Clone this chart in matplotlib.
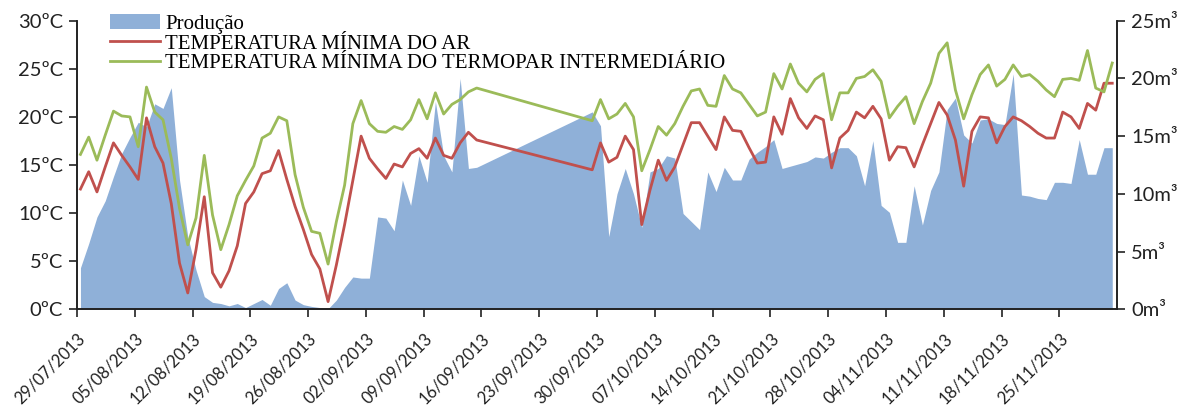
import numpy as np
import pandas as pd
import matplotlib
matplotlib.use("Agg")
import matplotlib.pyplot as plt
import matplotlib.dates as mdates
from matplotlib.patches import Patch
from matplotlib.lines import Line2D

# daily readings from 29/07/2013 to 01/12/2013 (None = no reading)
start_date = "2013-07-29 10:00"

producao = [
    3.6, 5.7, 8.0, 9.4, 11.5, 13.5, 14.9, 16.2, 15.8, 17.8, 17.4, 19.2, 11.2, 6.3,
    3.4, 1.1, 0.6, 0.5, 0.3, 0.5, 0.15, 0.5, 0.85, 0.35, 1.8, 2.3, 0.8, 0.4,
    0.25, 0.15, 0.05, 0.8, 1.9, 2.8, 2.7, 2.7, 8.0, 7.9, 6.8, 11.2, 9.0, 13.3,
    11.0, 18.0, 13.3, 11.9, 20.0, 12.2, 12.3,
    None, None, None, None, None, None, None, None, None, None, None, None, None,
    17.1, 15.9, 6.3, 10.0, 12.2, 10.0, 7.1, 11.9, 12.2, 13.3, 13.1, 8.3, 7.6, 6.9,
    11.9, 10.2, 12.3, 11.2, 11.2, 13.0, 13.6, 14.1, 14.7, 12.2, 12.4, 12.6, 12.8, 13.2,
    13.1, 13.6, 14.0, 14.0, 13.3, 10.7, 14.6, 9.0, 8.4, 5.8, 5.8, 10.7, 7.3, 10.3,
    11.9, 17.3, 18.3, 15.1, 14.4, 16.4, 16.5, 16.1, 16.0, 20.4, 9.9, 9.8, 9.6, 9.5,
    11.0, 11.0, 10.9, 14.7, 11.7, 11.7, 14.0, 14.0,
]

temp_ar = [
    12.5, 14.3, 12.2, 14.8, 17.3, 16.0, 14.8, 13.5, 19.9, 16.9, 15.2, 11.0, 4.8, 1.7,
    6.2, 11.7, 3.8, 2.3, 4.0, 6.6, 11.0, 12.2, 14.1, 14.4, 16.5, 13.5, 10.7, 8.3,
    5.7, 4.2, 0.8, 4.6, 8.8, 13.4, 18.0, 15.7, 14.6, 13.6, 15.1, 14.8, 16.2, 16.7,
    15.7, 17.8, 16.0, 15.7, 17.3, 18.4, 17.6,
    None, None, None, None, None, None, None, None, None, None, None, None, None,
    14.5, 17.3, 15.3, 15.8, 18.0, 16.6, 8.8, 12.4, 15.5, 13.4, 14.8, 17.1, 19.4, 19.4,
    18.0, 16.6, 20.0, 18.6, 18.5, 16.8, 15.2, 15.3, 20.0, 18.2, 21.9, 19.9, 18.8, 20.1,
    19.7, 14.7, 17.8, 18.6, 20.5, 19.9, 21.1, 19.8, 15.5, 16.9, 16.8, 14.8, 17.1, 19.3,
    21.5, 20.2, 17.6, 12.8, 18.5, 20.0, 19.9, 17.3, 19.0, 20.0, 19.6, 19.0, 18.3, 17.8,
    17.8, 20.5, 20.0, 18.8, 21.4, 20.7, 23.5, 23.5,
]

temp_termopar = [
    16.1, 17.9, 15.5, 18.1, 20.6, 20.1, 20.0, 16.9, 23.1, 20.5, 19.7, 15.7, 10.5, 6.7,
    9.5, 16.0, 9.8, 6.2, 8.8, 11.8, 13.4, 14.9, 17.8, 18.3, 20.0, 19.6, 14.0, 10.6,
    8.1, 7.9, 4.7, 9.1, 12.9, 19.3, 21.7, 19.3, 18.5, 18.4, 19.0, 18.7, 19.7, 21.8,
    19.8, 22.5, 20.3, 21.3, 21.8, 22.6, 23.0,
    None, None, None, None, None, None, None, None, None, None, None, None, None,
    19.6, 21.8, 19.8, 20.3, 21.4, 20.0, 14.4, 16.6, 19.0, 18.1, 19.3, 21.1, 22.7, 22.9,
    21.2, 21.1, 24.3, 22.9, 22.5, 21.3, 20.1, 20.5, 24.5, 22.9, 25.5, 23.5, 22.6, 23.9,
    24.5, 19.7, 22.5, 22.5, 24.0, 24.2, 24.9, 23.7, 19.9, 21.1, 22.1, 19.3, 21.6, 23.5,
    26.6, 27.7, 22.8, 19.8, 22.3, 24.4, 25.4, 23.2, 23.9, 25.4, 24.2, 24.4, 23.7, 22.8,
    22.1, 23.9, 24.0, 23.8, 26.9, 23.0, 22.6, 25.6,
]

temp_ticks = [0, 5, 10, 15, 20, 25, 30]
vol_ticks = [0, 5, 10, 15, 20, 25]
date_ticks = pd.date_range("2013-07-29", "2013-11-25", freq="7D")
x_end = "2013-12-02"

df = pd.DataFrame(
    {"producao": producao, "ar": temp_ar, "termopar": temp_termopar},
    index=pd.date_range(start_date, periods=len(producao), freq="D"),
    dtype=float,
)
d = df.dropna()

blue = "#8FB0D8"
red = "#C0504D"
green = "#9BBB59"
tick_font = "Lato"
legend_font = "Liberation Serif"

fig = plt.figure(figsize=(11.96, 4.05), dpi=100)
ax = fig.add_axes([0.0644, 0.2363, 0.8696, 0.7126])
ax.fill_between(d.index, d["producao"], 0, color=blue, lw=0)
ax.set_ylim(0, 25)

ax2 = ax.twinx()
ax2.plot(d.index, d["ar"], color=red, lw=2.0)
ax2.plot(d.index, d["termopar"], color=green, lw=2.0)
ax2.set_ylim(0, 30)

# production on the right, temperatures on the left
ax.yaxis.tick_right()
ax.set_yticks(vol_ticks)
ax.set_yticklabels([f"{v}m³" for v in vol_ticks])
ax2.yaxis.tick_left()
ax2.set_yticks(temp_ticks)
ax2.set_yticklabels([f"{t}ºC" for t in temp_ticks])

ax.set_xlim(pd.Timestamp("2013-07-29"), pd.Timestamp(x_end))
ax.set_xticks(date_ticks)
ax.xaxis.set_major_formatter(mdates.DateFormatter("%d/%m/%Y"))

for a in (ax, ax2):
    a.spines["top"].set_visible(False)
    for s in ("left", "right", "bottom"):
        a.spines[s].set_linewidth(1.2)
        a.spines[s].set_color("#222222")
    a.tick_params(axis="both", direction="out", length=6, width=1.2, color="#222222",
                  labelcolor="#222222")
    a.tick_params(axis="y", labelsize=14.5, pad=4)
    for lab in a.get_yticklabels():
        lab.set_fontfamily(tick_font)

ax.tick_params(axis="x", labelsize=12, pad=9)
for lab in ax.get_xticklabels():
    lab.set_fontfamily(tick_font)
    lab.set_rotation(45)
    lab.set_ha("right")
    lab.set_rotation_mode("anchor")

handles = [
    Patch(facecolor=blue, edgecolor="none"),
    Line2D([], [], color=red, lw=2.0),
    Line2D([], [], color=green, lw=2.0),
]
labels = ["Produção", "TEMPERATURA MÍNIMA DO AR",
          "TEMPERATURA MÍNIMA DO TERMOPAR INTERMEDIÁRIO"]
fig.legend(handles, labels, loc="upper left", bbox_to_anchor=(0.085, 0.985),
           frameon=False, prop={"family": legend_font, "size": 15},
           handlelength=2.4, handletextpad=0.25, labelspacing=0.0,
           borderaxespad=0)

fig.savefig("out.png", dpi=100)
